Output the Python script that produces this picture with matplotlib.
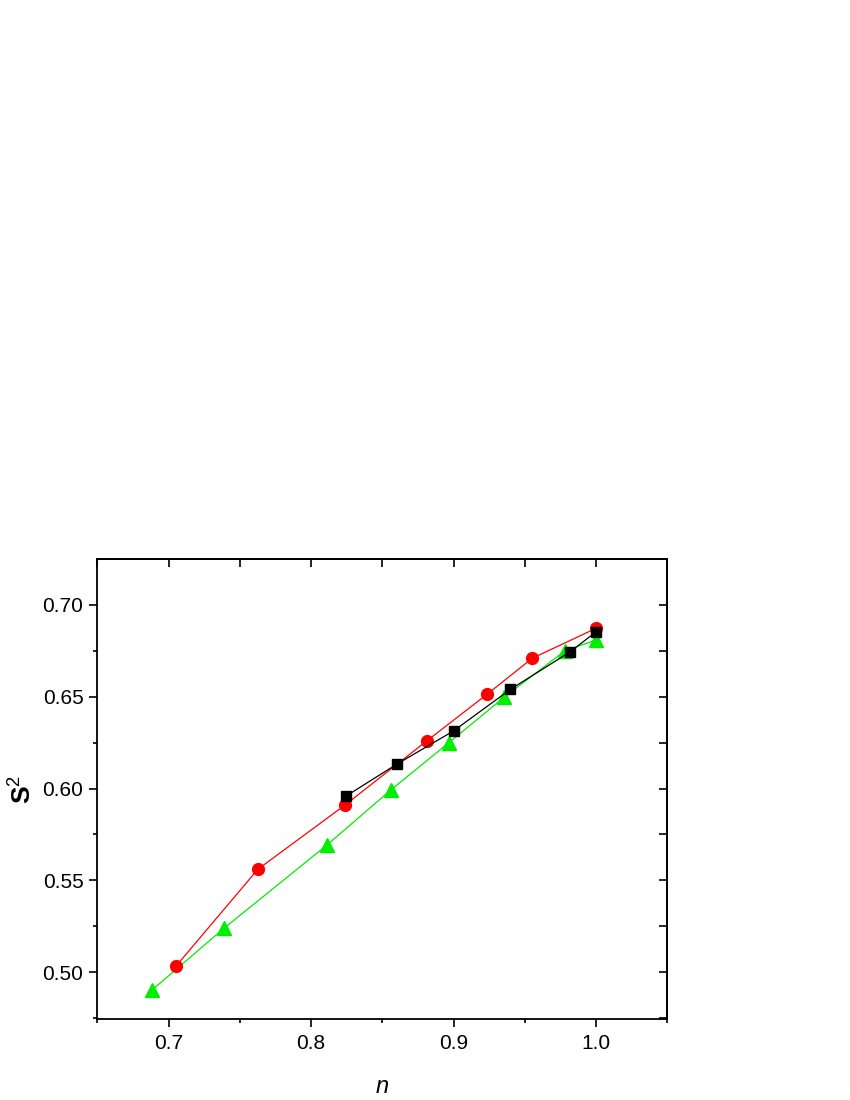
import numpy as np
import matplotlib
matplotlib.use("Agg")
from matplotlib import pyplot as plt
from matplotlib.ticker import MultipleLocator

plt.rcParams['font.family'] = ['Liberation Sans', 'DejaVu Sans']
plt.rcParams['mathtext.fontset'] = 'custom'
plt.rcParams['mathtext.rm'] = 'Liberation Sans'
plt.rcParams['mathtext.it'] = 'Liberation Sans:italic'
plt.rcParams['mathtext.bf'] = 'Liberation Sans:bold'

# black squares
n_black = [0.8246, 0.8601, 0.9000, 0.9399, 0.9818, 1.0000]
s2_black = [0.5959, 0.6132, 0.6313, 0.6539, 0.6743, 0.6852]

# red circles
n_red = [0.7053, 0.7627, 0.8238, 0.8811, 0.9238, 0.9552, 1.0000]
s2_red = [0.5035, 0.5561, 0.5910, 0.6258, 0.6514, 0.6708, 0.6871]

# green triangles
n_green = [0.6885, 0.7389, 0.8112, 0.8560, 0.8967, 0.9355, 0.9782, 1.0000]
s2_green = [0.4905, 0.5240, 0.5693, 0.5992, 0.6249, 0.6496, 0.6749, 0.6807]

xticks = [0.7, 0.8, 0.9, 1.0]
yticks = [0.50, 0.55, 0.60, 0.65, 0.70]

fig = plt.figure(figsize=(8.5, 11), dpi=100)
ax = fig.add_axes([0.1145, 0.0735, 0.6705, 0.418])

ax.plot(n_green, s2_green, color='#00ee00', lw=0.9, marker='^', ms=9.5, zorder=2)
ax.plot(n_red, s2_red, color='#ff0000', lw=0.9, marker='o', ms=8.5, zorder=3)
ax.plot(n_black, s2_black, color='black', lw=0.9, marker='s', ms=7, zorder=4)

ax.set_xlim(0.65, 1.05)
ax.set_ylim(0.4746, 0.7246)
ax.set_xticks(xticks)
ax.set_xticklabels(['%.1f' % v for v in xticks])
ax.set_yticks(yticks)
ax.set_yticklabels(['%.2f' % v for v in yticks])
ax.xaxis.set_minor_locator(MultipleLocator(0.05))
ax.yaxis.set_minor_locator(MultipleLocator(0.025))

ax.tick_params(which='major', direction='out', length=6, width=1.2, labelsize=15,
               top=False, right=False)
ax.tick_params(which='minor', direction='out', length=3, width=1.2,
               top=False, right=False)
ax.tick_params(axis='x', pad=5)
ax.tick_params(axis='y', pad=4)
for sp in ax.spines.values():
    sp.set_linewidth(1.3)

# mirrored inward ticks on top and right
top = ax.secondary_xaxis('top')
top.set_xticks(np.arange(0.65, 1.051, 0.05))
top.tick_params(direction='in', length=6, width=1.2, labeltop=False)
top.spines['top'].set_linewidth(1.3)
right = ax.secondary_yaxis('right')
right.set_yticks(np.arange(0.475, 0.726, 0.025))
right.tick_params(direction='in', length=6, width=1.2, labelright=False)
right.spines['right'].set_linewidth(1.3)

ax.set_xlabel('$n$', fontsize=17, labelpad=16)
ax.set_ylabel(r'$\mathbf{S}^2$', fontsize=19, labelpad=4)

fig.savefig('out.png', dpi=100)
